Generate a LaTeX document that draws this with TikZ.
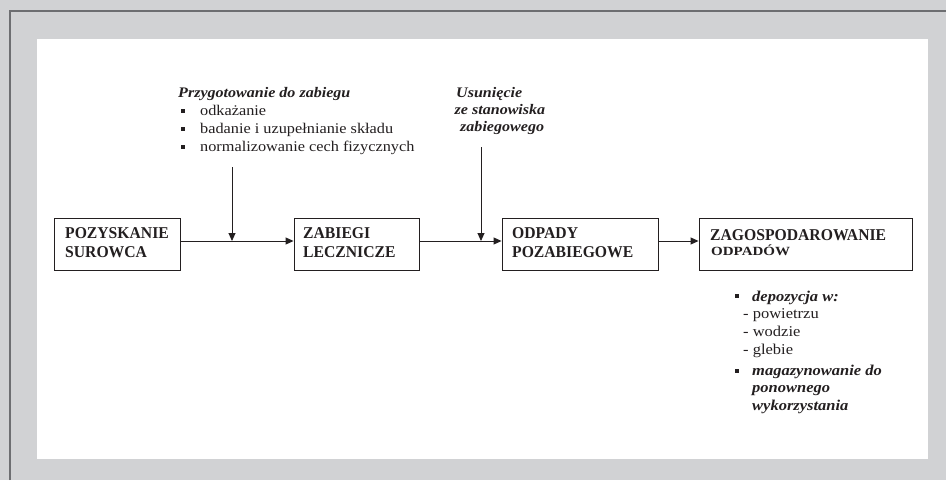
\documentclass[tikz,border=0pt]{standalone}
\usepackage{fontspec}
\setmainfont{Liberation Serif}
\newfontfamily\wf{Liberation Serif}[FakeStretch=1.1]
\newfontfamily\xwf{Liberation Serif}[FakeStretch=1.2]
\newfontfamily\nf{Liberation Serif}[FakeStretch=0.95]
\usetikzlibrary{arrows.meta}
\definecolor{bggray}{HTML}{D1D2D4}
\definecolor{edgegray}{HTML}{6D6E71}
\definecolor{ink}{HTML}{231F20}
\begin{document}
\begin{tikzpicture}[x=1pt,y=-1pt,
  stage/.style={draw=ink, line width=0.9pt, rectangle, inner sep=0pt, minimum height=52pt},
  boxtxt/.style={anchor=base west, inner sep=0pt, text=ink, font=\nf\bfseries\fontsize{16.5}{19}\selectfont},
  smallcap/.style={anchor=base west, inner sep=0pt, text=ink, font=\xwf\bfseries\fontsize{12.5}{14}\selectfont},
  head/.style={anchor=base west, inner sep=0pt, text=ink, font=\wf\bfseries\itshape\fontsize{14.6}{17}\selectfont},
  item/.style={anchor=base west, inner sep=0pt, text=ink, font=\wf\fontsize{14.8}{17}\selectfont},
  lowitem/.style={anchor=base west, inner sep=0pt, text=ink, font=\wf\fontsize{15}{18}\selectfont},
  lowhead/.style={anchor=base west, inner sep=0pt, text=ink, font=\wf\bfseries\itshape\fontsize{15}{18}\selectfont},
  bul/.style={rectangle, fill=ink, inner sep=0pt, minimum width=4pt, minimum height=4.5pt},
  arr/.style={draw=ink, line width=0.9pt, -{Triangle[length=8pt,width=7pt]}}
]
\useasboundingbox (0,0) rectangle (946,480);
\fill[bggray] (0,0) rectangle (946,480);
\fill[white] (37,39) rectangle (928,459);
\draw[edgegray, line width=1.5pt] (10,480) -- (10,11) -- (946,11);

% stage boxes
\node[stage, minimum width=126pt] (b1) at (117,244) {};
\node[stage, minimum width=125pt] (b2) at (356.5,244) {};
\node[stage, minimum width=156pt] (b3) at (580,244) {};
\node[stage, minimum width=213pt] (b4) at (805.5,244) {};

\node[boxtxt] (t1a) at (65,238) {POZYSKANIE};
\node[boxtxt] (t1b) at (65,257) {SUROWCA};
\node[boxtxt] (t2a) at (303,238) {ZABIEGI};
\node[boxtxt] (t2b) at (303,257) {LECZNICZE};
\node[boxtxt] (t3a) at (512,238) {ODPADY};
\node[boxtxt] (t3b) at (512,257) {POZABIEGOWE};
\node[boxtxt] (t4a) at (710,240) {ZAGOSPODAROWANIE};
\node[smallcap] (t4b) at (711,255) {ODPADÓW};

% horizontal connectors
\draw[arr] ([yshift=3pt]b1.east) -- ([yshift=3pt]b2.west);
\draw[arr] ([yshift=3pt]b2.east) -- ([yshift=3pt]b3.west);
\draw[arr] ([yshift=3pt]b3.east) -- ([yshift=3pt]b4.west);

% vertical inputs
\coordinate (s1) at (232,167);
\coordinate (j1) at (232,241);
\draw[arr] (s1) -- (j1);
\coordinate (s2) at (481,147);
\coordinate (j2) at (481,241);
\draw[arr] (s2) -- (j2);

% preparation list
\node[head] (h1) at (178,97) {Przygotowanie do zabiegu};
\node[bul] (bu1) at (182.5,111) {};
\node[item] (l1) at (200,115) {odkażanie};
\node[bul] (bu2) at (182.5,129) {};
\node[item] (l2) at (200,133) {badanie i uzupełnianie składu};
\node[bul] (bu3) at (182.5,147) {};
\node[item] (l3) at (200,151) {normalizowanie cech fizycznych};

% removal label
\node[head] (u1) at (456,97) {Usunięcie};
\node[head] (u2) at (454.5,114) {ze stanowiska};
\node[head] (u3) at (460,131) {zabiegowego};

% management list
\node[bul] (bu4) at (737,296) {};
\node[lowhead] (m1) at (752,301) {depozycja w:};
\node[lowitem] (m2) at (743,318) {- powietrzu};
\node[lowitem] (m3) at (743,336.5) {- wodzie};
\node[lowitem] (m4) at (743,354) {- glebie};
\node[bul] (bu5) at (737,371) {};
\node[lowhead] (m5) at (752,375) {magazynowanie do};
\node[lowhead] (m6) at (752,392.5) {ponownego};
\node[lowhead] (m7) at (752,410.5) {wykorzystania};
\end{tikzpicture}
\end{document}
